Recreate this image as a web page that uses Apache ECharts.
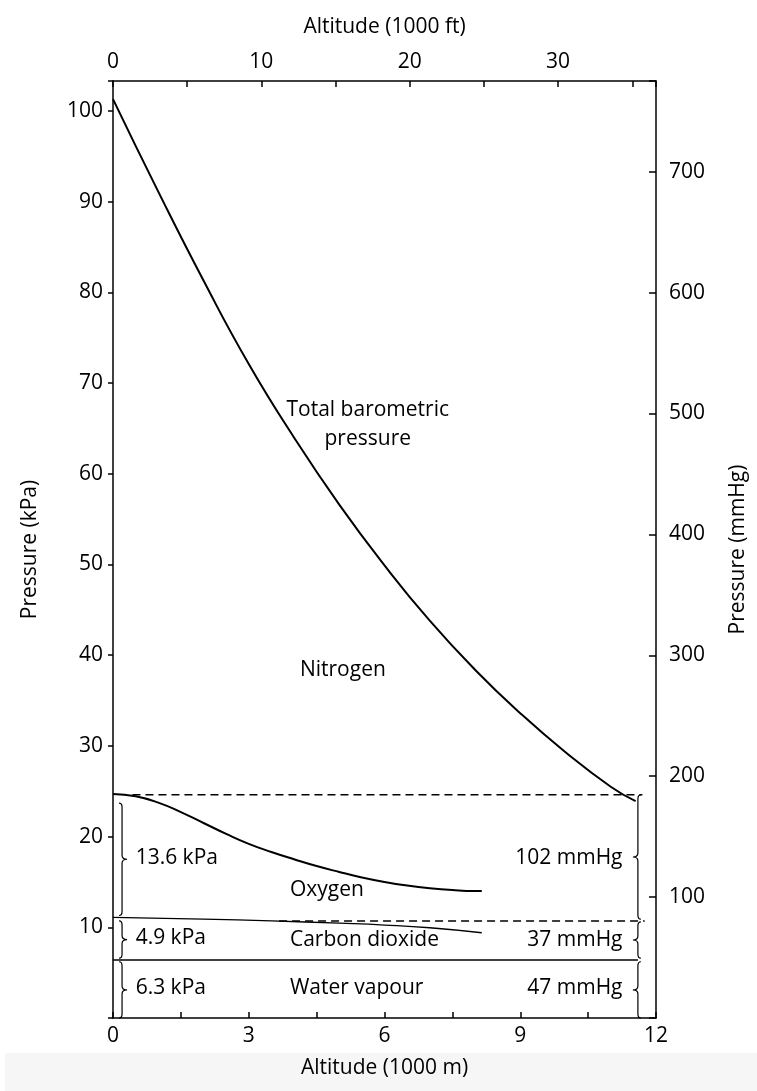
<!DOCTYPE html>
<html>
<head>
<meta charset="utf-8">
<script src="https://cdn.jsdelivr.net/npm/echarts@6/dist/echarts.min.js"></script>
<style>
  html, body { margin: 0; padding: 0; background: #fff; }
  #chart { width: 757px; height: 1091px; }
</style>
</head>
<body>
<div id="chart"></div>
<script>
// altitude in 1000 m, pressure in kPa
var totalAlt = [0, 1, 2, 3, 4, 5, 6, 7, 8, 9, 10, 11, 11.55];
var totalKpa = [101.3, 91.1, 81.3, 72.1, 64.0, 56.6, 49.9, 43.8, 38.4, 33.6, 29.3, 25.5, 23.9];

var oxyAlt = [0, 0.5, 1, 1.5, 2, 2.5, 3, 3.5, 4, 4.5, 5, 5.5, 6, 6.5, 7, 7.5, 8, 8.15];
var oxyKpa = [24.7, 24.45, 23.75, 22.7, 21.5, 20.3, 19.2, 18.3, 17.5, 16.75, 16.1, 15.5, 15.0, 14.6, 14.3, 14.1, 14.0, 14.0];

var co2Alt = [0, 2, 3.5, 5, 6, 7, 8.15];
var co2Kpa = [11.1, 10.9, 10.7, 10.45, 10.25, 9.95, 9.4];

var waterAlt = [0, 11.6];
var waterKpa = [6.4, 6.4];

// dashed reference lines
var dashUpperAlt = [0.43, 11.7];
var dashUpperKpa = [24.6, 24.6];
var dashLowerAlt = [3.67, 11.75];
var dashLowerKpa = [10.7, 10.7];

// braces: altitude, from kPa, to kPa, direction (1 = points right, -1 = points left)
var braces = [
    [0.2, 23.7, 11.3, 1],
    [0.2, 10.7, 6.6, 1],
    [0.2, 6.2, 0, 1],
    [11.6, 24.6, 10.9, -1],
    [11.6, 10.6, 6.6, -1],
    [11.6, 6.2, 0, -1]
];

// annotations: altitude, kPa, text, align
var notes = [
    [5.63, 65.4, 'Total barometric\npressure', 'center'],
    [5.08, 38.4, 'Nitrogen', 'center'],
    [3.91, 14.1, 'Oxygen', 'left'],
    [3.91, 8.6, 'Carbon dioxide', 'left'],
    [3.91, 3.3, 'Water vapour', 'left'],
    [0.5, 17.6, '13.6 kPa', 'left'],
    [0.5, 8.8, '4.9 kPa', 'left'],
    [0.5, 3.3, '6.3 kPa', 'left'],
    [11.26, 17.6, '102 mmHg', 'right'],
    [11.26, 8.6, '37 mmHg', 'right'],
    [11.26, 3.3, '47 mmHg', 'right']
];

function pairs(xs, ys) {
    return xs.map(function (x, i) { return [x, ys[i]]; });
}

var FONT = 'Open Sans';
var INK = '#000';
var FS = 21;
var axisLine = { show: true, onZero: false, lineStyle: { color: INK, width: 1.5 } };
var nameStyle = { fontSize: FS, color: INK, fontFamily: FONT };

var chart = echarts.init(document.getElementById('chart'));
var option = {
    backgroundColor: '#fff',
    animation: false,
    textStyle: { fontFamily: FONT, color: INK },
    graphic: [
        {
            type: 'rect',
            left: 5, top: 1053,
            shape: { width: 752, height: 38 },
            style: { fill: '#f6f6f6' },
            z: -10
        }
    ],
    grid: { left: 113, right: 91, top: 81, bottom: 73, containLabel: false },
    xAxis: [
        {
            type: 'value',
            position: 'bottom',
            min: 0, max: 12, interval: 1.5,
            name: 'Altitude (1000 m)',
            nameLocation: 'middle',
            nameGap: 40,
            nameTextStyle: nameStyle,
            axisLine: axisLine,
            axisTick: { show: true, inside: true, length: 6, lineStyle: { color: INK, width: 1.5 } },
            axisLabel: {
                fontSize: FS, color: INK, fontFamily: FONT, margin: 8,
                formatter: function (v) { return v % 3 === 0 ? String(v) : ''; }
            },
            splitLine: { show: false }
        },
        {
            type: 'value',
            position: 'top',
            min: 0, max: 36.6, interval: 5,
            name: 'Altitude (1000 ft)',
            nameLocation: 'middle',
            nameGap: 43,
            nameTextStyle: nameStyle,
            axisLine: axisLine,
            axisTick: { show: true, inside: true, length: 6, lineStyle: { color: INK, width: 1.5 } },
            axisLabel: {
                fontSize: FS, color: INK, fontFamily: FONT, margin: 8,
                formatter: function (v) { return v % 10 === 0 ? String(v) : ''; }
            },
            splitLine: { show: false }
        }
    ],
    yAxis: [
        {
            type: 'value',
            position: 'left',
            min: 0, max: 103.3, interval: 10,
            name: 'Pressure (kPa)',
            nameLocation: 'middle',
            nameGap: 72,
            nameTextStyle: nameStyle,
            axisLine: axisLine,
            axisTick: { show: true, inside: false, length: 5, lineStyle: { color: INK, width: 1.5 } },
            axisLabel: {
                fontSize: FS, color: INK, fontFamily: FONT, margin: 10,
                formatter: function (v) { return (v > 0 && v % 10 === 0) ? String(v) : ''; }
            },
            splitLine: { show: false }
        },
        {
            type: 'value',
            position: 'right',
            min: 0, max: 775, interval: 100,
            name: 'Pressure (mmHg)',
            nameLocation: 'middle',
            nameGap: 72,
            nameTextStyle: nameStyle,
            axisLine: axisLine,
            axisTick: { show: true, inside: true, length: 7, lineStyle: { color: INK, width: 1.5 } },
            axisLabel: {
                fontSize: FS, color: INK, fontFamily: FONT, margin: 13,
                formatter: function (v) { return (v > 0 && v % 100 === 0) ? String(v) : ''; }
            },
            splitLine: { show: false }
        }
    ],
    series: [
        {
            name: 'Total', type: 'line', symbol: 'none', smooth: true,
            data: pairs(totalAlt, totalKpa),
            lineStyle: { color: INK, width: 2 }
        },
        {
            name: 'Oxygen', type: 'line', symbol: 'none', smooth: true,
            data: pairs(oxyAlt, oxyKpa),
            lineStyle: { color: INK, width: 2 }
        },
        {
            name: 'CO2', type: 'line', symbol: 'none', smooth: true,
            data: pairs(co2Alt, co2Kpa),
            lineStyle: { color: INK, width: 1.3 }
        },
        {
            name: 'Water', type: 'line', symbol: 'none',
            data: pairs(waterAlt, waterKpa),
            lineStyle: { color: INK, width: 1.5 }
        },
        {
            name: 'dashUpper', type: 'line', symbol: 'none',
            data: pairs(dashUpperAlt, dashUpperKpa),
            lineStyle: { color: INK, width: 1.5, type: [8, 5] }
        },
        {
            name: 'dashLower', type: 'line', symbol: 'none',
            data: pairs(dashLowerAlt, dashLowerKpa),
            lineStyle: { color: INK, width: 1.5, type: [8, 5] }
        },
        {
            name: 'braces', type: 'custom',
            encode: { x: 0, y: [1, 2] },
            data: braces,
            renderItem: function (params, api) {
                var a = api.coord([api.value(0), api.value(1)]);
                var b = api.coord([api.value(0), api.value(2)]);
                var d = api.value(3);
                var x = a[0], t = a[1], bt = b[1], m = (t + bt) / 2;
                var w = 5 * d, r = 4;
                var p = 'M' + (x - w * 0.6) + ',' + t +
                    ' Q' + x + ',' + t + ' ' + x + ',' + (t + r) +
                    ' L' + x + ',' + (m - r) +
                    ' Q' + x + ',' + m + ' ' + (x + w) + ',' + m +
                    ' Q' + x + ',' + m + ' ' + x + ',' + (m + r) +
                    ' L' + x + ',' + (bt - r) +
                    ' Q' + x + ',' + bt + ' ' + (x - w * 0.6) + ',' + bt;
                return {
                    type: 'path',
                    shape: { pathData: p },
                    style: { fill: null, stroke: INK, lineWidth: 1.2 }
                };
            }
        },
        {
            name: 'notes', type: 'scatter', symbolSize: 0,
            itemStyle: { opacity: 1, color: INK },
            data: notes.map(function (n) {
                return {
                    value: [n[0], n[1]],
                    label: {
                        show: true, position: 'inside', formatter: n[2], align: n[3],
                        verticalAlign: 'middle', fontSize: FS, lineHeight: 29,
                        color: INK, opacity: 1, fontFamily: FONT
                    }
                };
            })
        }
    ]
};
chart.setOption(option);
</script>
</body>
</html>
